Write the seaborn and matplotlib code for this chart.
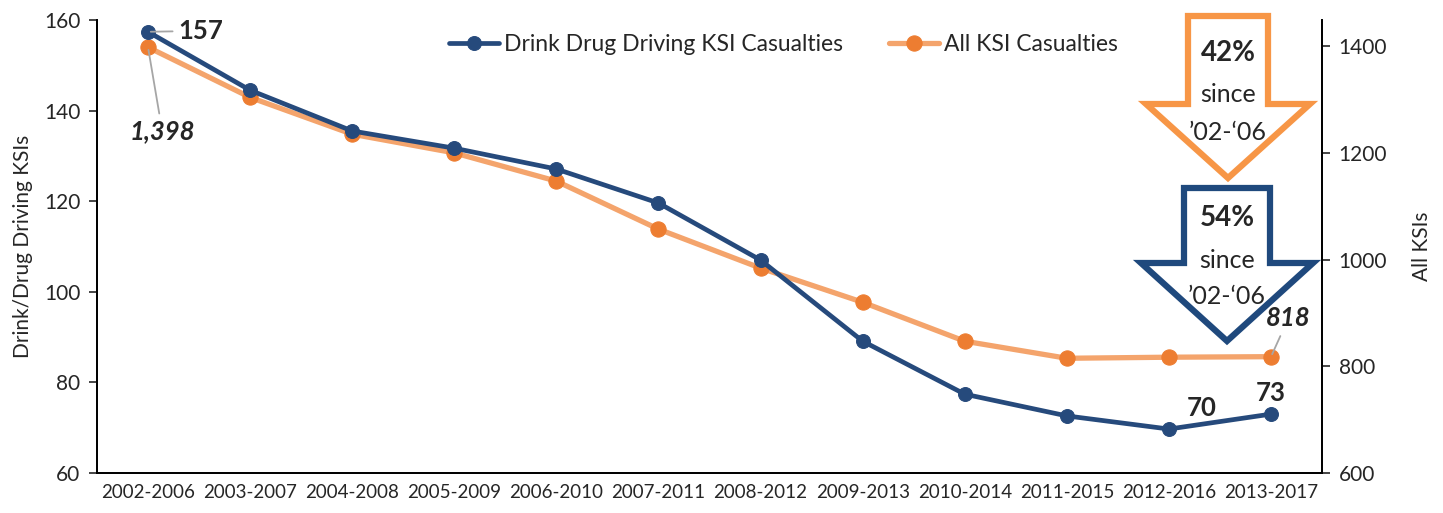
import numpy as np
import pandas as pd
import matplotlib.pyplot as plt
import seaborn as sns
from matplotlib.patches import Polygon

# Dados
periods = ["2002-2006", "2003-2007", "2004-2008", "2005-2009", "2006-2010", "2007-2011",
           "2008-2012", "2009-2013", "2010-2014", "2011-2015", "2012-2016", "2013-2017"]
drink_drug = [157.4, 144.5, 135.5, 131.7, 127.1, 119.6, 107.0, 89.1, 77.4, 72.6, 69.7, 73.0]
all_ksi = [1398, 1304, 1235, 1200, 1147, 1057, 984, 920, 847, 815, 817, 818]

navy = "#264A7C"
orange_line = "#F4A46C"
orange_dot = "#ED7D31"
arrow_orange = "#F79646"
arrow_navy = "#1F497D"

sns.set_style("white")
plt.rcParams["font.family"] = ["Lato", "DejaVu Sans"]

df = pd.DataFrame({"period": periods, "drink": drink_drug, "all": all_ksi})
df["x"] = np.arange(len(periods))

fig = plt.figure(figsize=(14.43, 5.13), dpi=100)
ax = fig.add_axes([0.0672, 0.078, 0.8490, 0.883])
ax2 = ax.twinx()

sns.lineplot(data=df, x="x", y="all", ax=ax2, color=orange_line, linewidth=3.8,
             marker="o", markersize=11, markerfacecolor=orange_dot,
             markeredgecolor=orange_dot, label="All KSI Casualties", legend=False)
sns.lineplot(data=df, x="x", y="drink", ax=ax, color=navy, linewidth=3.4,
             marker="o", markersize=10, markerfacecolor=navy,
             markeredgecolor=navy, label="Drink Drug Driving KSI Casualties", legend=False)
ax.set_zorder(ax2.get_zorder() + 1)
ax.patch.set_visible(False)

ax.set_ylim(60, 160)
ax.set_yticks([60, 80, 100, 120, 140, 160])
ax2.set_ylim(600, 1449)
ax2.set_yticks([600, 800, 1000, 1200, 1400])
ax.set_xlim(-0.5, len(periods) - 0.5)
ax.set_xticks(df["x"])
ax.set_xticklabels(periods)
ax.set_xticks(np.arange(-0.5, len(periods)), minor=True)
ax.tick_params(axis="x", which="major", length=0, labelsize=13.5, pad=8)
ax.tick_params(axis="x", which="minor", length=6, width=1.2, direction="out")
ax.tick_params(axis="y", length=6, width=1.2, direction="out", labelsize=15, left=True, pad=6)
ax2.tick_params(axis="y", length=6, width=1.2, direction="out", labelsize=15, right=True, pad=6)

ax.set_xlabel("")
ax.set_ylabel("Drink/Drug Driving KSIs", fontsize=15, labelpad=8)
ax2.set_ylabel("All KSIs", fontsize=15, labelpad=18)

for a in (ax, ax2):
    a.spines["top"].set_visible(False)
    for s in ("left", "right", "bottom"):
        a.spines[s].set_color("black")
        a.spines[s].set_linewidth(1.3)

# Legenda
h1, l1 = ax.get_legend_handles_labels()
h2, l2 = ax2.get_legend_handles_labels()
ax.legend(h1 + h2, l1 + l2, loc="upper center", bbox_to_anchor=(0.56, 1.015), ncol=2,
          frameon=False, fontsize=16.5, handlelength=2.2, handletextpad=0.2, columnspacing=2.0)

# Rótulos
lead = dict(arrowstyle="-", color="#A6A6A6", lw=1.3, shrinkA=2, shrinkB=2)
ax.annotate("157", xy=(0, drink_drug[0]), xytext=(0.3, 157.6), fontsize=18.5, fontweight="bold",
            va="center", ha="left", arrowprops=lead)
ax2.annotate("1,398", xy=(0, all_ksi[0]), xytext=(0.14, 1240), fontsize=18.5, fontweight="bold",
             style="italic", va="center", ha="center", arrowprops=lead)
ax2.annotate("818", xy=(11, all_ksi[-1]), xytext=(11.17, 890), fontsize=18.5, fontweight="bold",
             style="italic", va="center", ha="center", arrowprops=lead)
ax.text(10.32, 71.6, "70", fontsize=18.5, fontweight="bold", ha="center", va="bottom")
ax.text(11.0, 75.0, "73", fontsize=18.5, fontweight="bold", ha="center", va="bottom")


# Setas
def seta(x0, y0, bw, hy, hw, tip, cor, pct, offs):
    # x0, y0: topo central em pixels da figura
    W, H = 1443, 513
    pts = [(-bw, 0), (bw, 0), (bw, hy), (hw, hy), (0, tip), (-hw, hy), (-bw, hy)]
    poly = [((x0 + px) / W, 1 - (y0 + py) / H) for px, py in pts]
    fig.add_artist(Polygon(poly, closed=True, transform=fig.transFigure, facecolor="white",
                           edgecolor=cor, linewidth=4.5, joinstyle="miter", zorder=5))
    fig.text(x0 / W, 1 - (y0 + offs[0]) / H, pct, fontsize=20, fontweight="bold",
             ha="center", va="center", zorder=6)
    fig.text(x0 / W, 1 - (y0 + offs[1]) / H, "since", fontsize=18, ha="center", va="center", zorder=6)
    fig.text(x0 / W, 1 - (y0 + offs[2]) / H, "\u201902-\u201806", fontsize=18,
             ha="center", va="center", zorder=6)


seta(1228, 16, 40, 88, 82, 162, arrow_orange, "42%", (37, 78, 116))
seta(1227, 188, 43, 75, 86, 153, arrow_navy, "54%", (30, 72, 108))

fig.savefig("out.png", dpi=100)
